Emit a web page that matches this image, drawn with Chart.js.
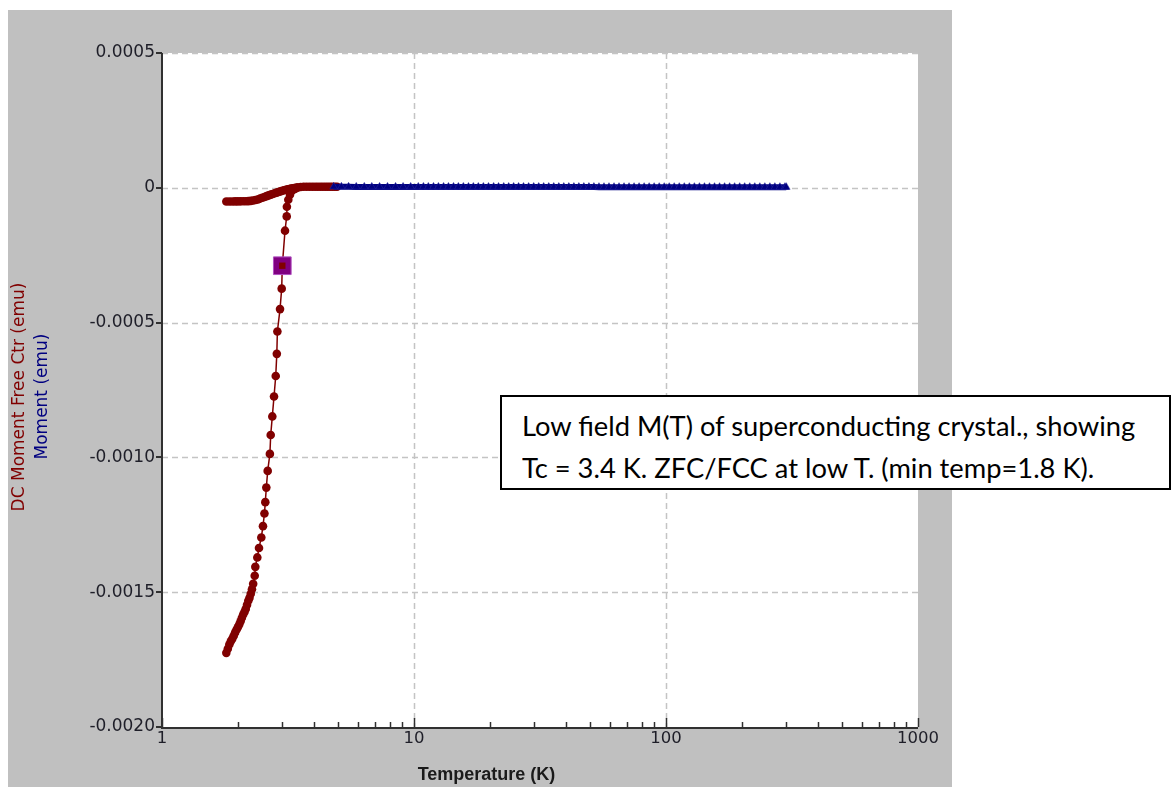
<!DOCTYPE html>
<html>
<head>
<meta charset="utf-8">
<script src="https://cdn.jsdelivr.net/npm/chart.js@4.4.1/dist/chart.umd.min.js"></script>
<style>
  html, body { margin: 0; padding: 0; background: #ffffff; }
  #wrap { position: relative; width: 1173px; height: 787px; overflow: hidden; }
  #c { display: block; }
  #note {
    position: absolute; left: 500px; top: 395px; width: 671px; height: 95px;
    box-sizing: border-box; border: 2px solid #000; background: #fff;
  }
  #noteText {
    position: absolute; left: 20px; top: 8px; white-space: nowrap;
    font-family: Lato, "Open Sans", sans-serif; font-size: 26px; line-height: 42px; color: #000;
    transform-origin: 0 0;
  }
</style>
</head>
<body>
<div id="wrap">
  <canvas id="c" width="1173" height="787"></canvas>
  <div id="note"><div id="noteText"><div id="l1">Low field M(T) of superconducting crystal., showing</div><div id="l2">Tc = 3.4 K. ZFC/FCC at low T. (min temp=1.8 K).</div></div></div>
</div>
<script>
// ---------------- data ----------------
// ZFC branch (dark red, circles) : temperature (K)
const zfcT = [
  1.800, 1.825, 1.850, 1.875, 1.900, 1.925, 1.950, 1.975, 2.000, 2.025,
  2.050, 2.075, 2.100, 2.125, 2.150, 2.175, 2.200, 2.225, 2.250, 2.275,
  2.300, 2.333, 2.346, 2.389, 2.426, 2.478, 2.516, 2.550, 2.570, 2.594,
  2.627, 2.680, 2.700, 2.740, 2.783, 2.827, 2.855, 2.870, 2.940, 2.985,
  3.002, 3.077, 3.125, 3.130, 3.171, 3.220, 3.280, 3.370, 3.450, 3.550,
  3.650, 3.750, 3.850, 3.950, 4.050, 4.150, 4.250, 4.350, 4.450, 4.550,
  4.650, 4.750, 4.850, 4.950
];
// ZFC branch : moment (emu)
const zfcM = [
  -0.001725, -0.001710, -0.001694, -0.001682, -0.001673, -0.001662, -0.001650, -0.001639, -0.001630, -0.001620,
  -0.001608, -0.001595, -0.001583, -0.001573, -0.001562, -0.001547, -0.001532, -0.001521, -0.001506, -0.001489,
  -0.001469, -0.001439, -0.001406, -0.001371, -0.001336, -0.001297, -0.001255, -0.001208, -0.001166, -0.001112,
  -0.001050, -0.000987, -0.000917, -0.000848, -0.000774, -0.000698, -0.000616, -0.000533, -0.000450, -0.000374,
  -0.000289, -0.000159, -0.000106, -0.0000705, -0.0000445, -0.000026, -0.000011, -0.000004, 0.000001, 0.000003,
  0.000004, 0.000004, 0.000004, 0.000004, 0.000004, 0.000004, 0.000004, 0.000004, 0.000004, 0.000004,
  0.000004, 0.000004, 0.000004, 0.000004
];
// FC branch (dark red, circles)
const fcT = [
  1.80, 1.85, 1.90, 1.95, 2.00, 2.05, 2.10, 2.15, 2.20, 2.25,
  2.30, 2.35, 2.40, 2.45, 2.50, 2.55, 2.60, 2.65, 2.70, 2.75,
  2.80, 2.85, 2.90, 2.95, 3.00, 3.05, 3.10, 3.15, 3.20, 3.25,
  3.30, 3.35, 3.40, 3.45
];
const fcM = [
  -0.0000508, -0.0000508, -0.0000506, -0.0000505, -0.0000504, -0.0000502, -0.0000500, -0.0000497, -0.0000494, -0.0000485,
  -0.0000472, -0.0000455, -0.0000432, -0.0000400, -0.0000370, -0.0000340, -0.0000308, -0.0000280, -0.0000253, -0.0000228,
  -0.0000204, -0.0000180, -0.0000157, -0.0000134, -0.0000111, -0.0000092, -0.0000075, -0.0000060, -0.0000046, -0.0000032,
  -0.0000020, -0.0000010, 0.0000000, 0.0000010
];
// Normal-state branch (navy, triangles)
const nsT = [
  4.8, 5.15, 5.5, 5.9, 6.35, 6.8, 7.3, 7.85, 8.45, 9.05,
  9.7, 10.4, 10.9, 11.4, 11.95, 12.5, 13.1, 13.7, 14.35, 15,
  15.7, 16.45, 17.2, 18, 18.85, 19.75, 20.7, 21.65, 22.7, 23.75,
  24.85, 26, 27.2, 28.5, 29.85, 31.25, 32.7, 34.25, 35.85, 37.55,
  39.3, 41.15, 43.1, 45.1, 47.2, 49.45, 51.75, 54.2, 56.75, 59.4,
  62.2, 65.1, 68.15, 71.35, 74.7, 78.2, 81.9, 85.75, 89.75, 94,
  98.4, 103, 107.8, 112.9, 118.2, 123.8, 129.6, 135.7, 142.1, 148.8,
  155.8, 163.1, 170.8, 178.8, 187.2, 196, 205.2, 214.9, 225, 235.6,
  246.7, 258.3, 270.4, 283.1, 296.4, 300
];
const nsM = [
  0.0000036, 0.0000035, 0.0000035, 0.0000034, 0.0000034, 0.0000034, 0.0000033, 0.0000033, 0.0000033, 0.0000032,
  0.0000032, 0.0000032, 0.0000031, 0.0000031, 0.0000031, 0.0000031, 0.0000030, 0.0000030, 0.0000030, 0.0000030,
  0.0000030, 0.0000029, 0.0000029, 0.0000029, 0.0000029, 0.0000029, 0.0000028, 0.0000028, 0.0000028, 0.0000028,
  0.0000028, 0.0000028, 0.0000027, 0.0000027, 0.0000027, 0.0000027, 0.0000027, 0.0000027, 0.0000027, 0.0000026,
  0.0000026, 0.0000026, 0.0000026, 0.0000026, 0.0000026, 0.0000026, 0.0000026, 0.0000025, 0.0000025, 0.0000025,
  0.0000025, 0.0000025, 0.0000025, 0.0000025, 0.0000025, 0.0000025, 0.0000025, 0.0000024, 0.0000024, 0.0000024,
  0.0000024, 0.0000024, 0.0000024, 0.0000024, 0.0000024, 0.0000024, 0.0000024, 0.0000024, 0.0000024, 0.0000024,
  0.0000024, 0.0000024, 0.0000024, 0.0000024, 0.0000024, 0.0000024, 0.0000024, 0.0000024, 0.0000024, 0.0000024,
  0.0000024, 0.0000024, 0.0000024, 0.0000024, 0.0000024, 0.0000024
];
// selected (highlighted) point
const selT = [3.002];
const selM = [-0.000289];

// axes
const xTickValues = [1, 10, 100, 1000];
const xTickLabels = ["1", "10", "100", "1000"];
const xMinorTickValues = [2,3,4,5,6,7,8,9,20,30,40,50,60,70,80,90,200,300,400,500,600,700,800,900];
const yTickValues = [0.0005, 0, -0.0005, -0.0010, -0.0015, -0.0020];
const yTickLabels = ["0.0005", "0", "-0.0005", "-0.0010", "-0.0015", "-0.0020"];
const xGridValues = [10, 100];
const yGridValues = [0.0005, 0, -0.0005, -0.0010, -0.0015];

const xTitle = "Temperature (K)";
const yTitleRed = "DC Moment Free Ctr (emu)";
const yTitleBlue = "Moment (emu)";

// ---------------- chart ----------------
const pts = (xs, ys) => xs.map((x, i) => ({ x: x, y: ys[i] }));
const RED = '#800000', BLUE = '#000080', PURPLE = '#800080';

const decor = {
  id: 'decor',
  beforeDraw(chart) {
    const c = chart.ctx, a = chart.chartArea;
    c.save();
    c.fillStyle = '#c0c0c0';
    c.fillRect(8, 10, 944, 777);
    c.fillStyle = '#ffffff';
    c.fillRect(a.left, a.top, a.right - a.left, a.bottom - a.top);
    c.restore();
  },
  beforeDatasetsDraw(chart) {
    const c = chart.ctx, a = chart.chartArea, xs = chart.scales.x, ys = chart.scales.y;
    c.save();
    c.strokeStyle = '#c4c4c4';
    c.lineWidth = 1.5;
    c.setLineDash([6, 4]);
    yGridValues.forEach(v => {
      const y = Math.round(ys.getPixelForValue(v)) + 0.5;
      c.beginPath(); c.moveTo(a.left, y); c.lineTo(a.right, y); c.stroke();
    });
    xGridValues.forEach(v => {
      const x = Math.round(xs.getPixelForValue(v)) + 0.5;
      c.beginPath(); c.moveTo(x, a.top); c.lineTo(x, a.bottom); c.stroke();
    });
    c.restore();
  },
  afterDraw(chart) {
    const c = chart.ctx, a = chart.chartArea, xs = chart.scales.x, ys = chart.scales.y;
    c.save();
    c.strokeStyle = '#303030';
    c.lineWidth = 2;
    c.setLineDash([]);
    c.beginPath(); c.moveTo(a.left, a.top); c.lineTo(a.left, a.bottom + 1); c.lineTo(a.right, a.bottom + 1); c.stroke();
    yTickValues.forEach(v => {
      const y = Math.round(ys.getPixelForValue(v));
      c.beginPath(); c.moveTo(a.left - 6, y); c.lineTo(a.left, y); c.stroke();
    });
    c.lineWidth = 1.5;
    xTickValues.forEach(v => {
      const x = Math.round(xs.getPixelForValue(v)) + 0.5;
      c.beginPath(); c.moveTo(x, a.bottom); c.lineTo(x, a.bottom - 9); c.stroke();
    });
    xMinorTickValues.forEach(v => {
      const x = Math.round(xs.getPixelForValue(v)) + 0.5;
      c.beginPath(); c.moveTo(x, a.bottom); c.lineTo(x, a.bottom - 5); c.stroke();
    });
    c.fillStyle = '#1a1a1a';
    c.font = 'bold 18px "Liberation Sans", Arial, sans-serif';
    c.textAlign = 'center';
    c.textBaseline = 'middle';
    c.fillText(xTitle, 486.5, 775);
    c.font = '17px "DejaVu Sans", sans-serif';
    c.translate(19.5, 397);
    c.rotate(-Math.PI / 2);
    c.fillStyle = RED;
    c.fillText(yTitleRed, 0, 0);
    c.restore();
    c.save();
    c.font = '17px "DejaVu Sans", sans-serif';
    c.textAlign = 'center';
    c.textBaseline = 'middle';
    c.translate(42.5, 396.5);
    c.rotate(-Math.PI / 2);
    c.fillStyle = BLUE;
    c.fillText(yTitleBlue, 0, 0);
    c.restore();
  }
};

new Chart(document.getElementById('c'), {
  type: 'scatter',
  data: {
    datasets: [
      { label: 'sel-inner', data: pts(selT, selM), order: 0, showLine: false,
        pointStyle: 'rect', pointRadius: 4.5, backgroundColor: RED, borderColor: RED, borderWidth: 0 },
      { label: 'sel', data: pts(selT, selM), order: 1, showLine: false,
        pointStyle: 'rect', pointRadius: 12.5, backgroundColor: PURPLE, borderColor: '#b050c0', borderWidth: 1 },
      { label: 'Moment', data: pts(nsT, nsM), order: 2, showLine: true,
        borderColor: BLUE, backgroundColor: BLUE, borderWidth: 6,
        pointStyle: 'triangle', pointRadius: 4.5, pointBorderWidth: 0.5, pointBorderColor: '#2a2aa0' },
      { label: 'ZFC', data: pts(zfcT, zfcM), order: 3, showLine: true,
        borderColor: RED, backgroundColor: RED, borderWidth: 1.5,
        pointStyle: 'circle', pointRadius: 4.3, pointBorderWidth: 0 },
      { label: 'FC', data: pts(fcT, fcM), order: 4, showLine: true,
        borderColor: RED, backgroundColor: RED, borderWidth: 1.5,
        pointStyle: 'circle', pointRadius: 4.3, pointBorderWidth: 0 }
    ]
  },
  options: {
    responsive: false,
    animation: false,
    devicePixelRatio: 1,
    layout: { padding: { left: 0, right: 255, top: 53, bottom: 0 } },
    plugins: { legend: { display: false }, tooltip: { enabled: false } },
    elements: { line: { tension: 0 } },
    scales: {
      x: {
        type: 'logarithmic', min: 1, max: 1000,
        grid: { display: false, drawTicks: false },
        border: { display: false },
        afterBuildTicks: s => { s.ticks = xTickValues.map(v => ({ value: v })); },
        afterFit: s => { s.height = 60; },
        ticks: {
          autoSkip: false, maxRotation: 0, padding: 2, color: '#1e1e28',
          font: { family: '"DejaVu Sans", sans-serif', size: 16.5 },
          callback: (v, i) => xTickLabels[i]
        }
      },
      y: {
        type: 'linear', min: -0.002, max: 0.0005,
        grid: { display: false, drawTicks: false },
        border: { display: false },
        afterBuildTicks: s => { s.ticks = yTickValues.map(v => ({ value: v })); },
        afterFit: s => { s.width = 162; },
        ticks: {
          autoSkip: false, padding: 7, color: '#1e1e28',
          font: { family: '"DejaVu Sans", sans-serif', size: 17 },
          callback: (v, i) => yTickLabels[i]
        }
      }
    }
  },
  plugins: [decor]
});

(function () {
  const t = document.getElementById('noteText');
  const w = document.getElementById('l1').scrollWidth;
  const s = 613 / w;
  t.style.transform = 'scaleX(' + s.toFixed(4) + ')';
})();
</script>
</body>
</html>
